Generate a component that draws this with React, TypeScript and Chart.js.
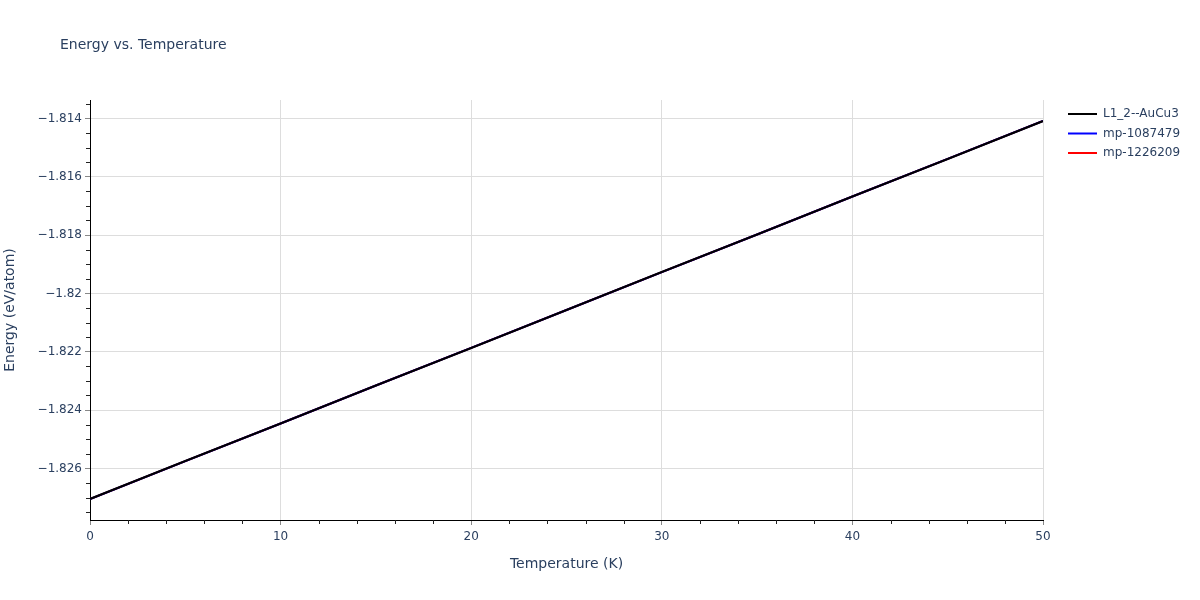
import React, { useEffect, useRef } from 'react';
import { Chart, registerables, ChartConfiguration, Plugin } from 'chart.js';

Chart.register(...registerables);

// temperatures (K) and energies (eV/atom)
const temperatures = [0, 5, 10, 15, 20, 25, 30, 35, 40, 45, 50];
const energyL12 = [-1.82705, -1.82575, -1.82446, -1.82316, -1.82187, -1.82057, -1.81927, -1.81798, -1.81668, -1.81539, -1.81409];
const energyMp1087479 = [-1.82705, -1.82575, -1.82446, -1.82316, -1.82187, -1.82057, -1.81927, -1.81798, -1.81668, -1.81539, -1.81409];
const energyMp1226209 = [-1.82705, -1.82575, -1.82446, -1.82316, -1.82187, -1.82057, -1.81927, -1.81798, -1.81668, -1.81539, -1.81409];

const seriesNames = ['L1_2--AuCu3', 'mp-1087479', 'mp-1226209'];
const seriesColors = ['#000000', '#0000ff', '#ff0000'];

const yTicks = [-1.826, -1.824, -1.822, -1.82, -1.818, -1.816, -1.814];
const xTicks = [0, 10, 20, 30, 40, 50];

const TEXT = '#2a3f5f';
const FONT = "'DejaVu Sans', sans-serif";

const fmt = (v: number) => {
  const s = parseFloat(v.toFixed(4)).toString();
  return s.replace('-', '\u2212');
};

const extrasPlugin: Plugin = {
  id: 'extras',
  afterDraw(chart) {
    const ctx = chart.ctx;
    const xs = chart.scales.x;
    const ys = chart.scales.y;
    const area = chart.chartArea;
    ctx.save();

    // minor ticks
    ctx.strokeStyle = '#222';
    ctx.lineWidth = 1;
    for (let t = 2; t < 50; t += 2) {
      if (t % 10 === 0) continue;
      const px = Math.round(xs.getPixelForValue(t)) + 0.5;
      ctx.beginPath();
      ctx.moveTo(px, area.bottom);
      ctx.lineTo(px, area.bottom + 4);
      ctx.stroke();
    }
    for (let i = -3656; i <= -3627; i++) {
      const v = i * 0.0005;
      if (v < ys.min || v > ys.max) continue;
      if (i % 4 === 0) continue;
      const py = Math.round(ys.getPixelForValue(v)) + 0.5;
      ctx.beginPath();
      ctx.moveTo(area.left - 4, py);
      ctx.lineTo(area.left, py);
      ctx.stroke();
    }

    // title
    ctx.fillStyle = TEXT;
    ctx.font = `14px ${FONT}`;
    ctx.textAlign = 'left';
    ctx.textBaseline = 'middle';
    ctx.fillText('Energy vs. Temperature', 60, 45.5);

    // legend
    ctx.font = `12px ${FONT}`;
    chart.data.datasets.forEach((ds, i) => {
      const y = 114 + i * 19.5;
      ctx.strokeStyle = ds.borderColor as string;
      ctx.lineWidth = 2;
      ctx.beginPath();
      ctx.moveTo(1068, y);
      ctx.lineTo(1097, y);
      ctx.stroke();
      ctx.fillStyle = TEXT;
      ctx.fillText(ds.label as string, 1103, y);
    });
    ctx.restore();
  },
};

const App: React.FC = () => {
  const canvasRef = useRef<HTMLCanvasElement | null>(null);

  useEffect(() => {
    if (!canvasRef.current) return;
    const series = [energyL12, energyMp1087479, energyMp1226209];

    const config: ChartConfiguration<'line'> = {
      type: 'line',
      data: {
        datasets: series.map((vals, i) => ({
          label: seriesNames[i],
          data: temperatures.map((t, j) => ({ x: t, y: vals[j] })),
          borderColor: seriesColors[i],
          backgroundColor: seriesColors[i],
          borderWidth: i === 0 ? 2.2 : 2,
          pointRadius: 0,
          tension: 0,
          fill: false,
        })),
      },
      options: {
        animation: false,
        responsive: true,
        maintainAspectRatio: false,
        devicePixelRatio: 1,
        layout: { padding: { left: 0, right: 157, top: 100, bottom: 0 } },
        plugins: {
          legend: { display: false },
          title: { display: false },
          tooltip: { enabled: false },
        },
        scales: {
          x: {
            type: 'linear',
            min: 0,
            max: 50,
            afterBuildTicks: (scale) => {
              scale.ticks = xTicks.map((v) => ({ value: v }));
            },
            afterFit: (scale) => {
              scale.height = 80;
            },
            ticks: {
              color: TEXT,
              font: { family: FONT, size: 12 },
              padding: 5,
              maxRotation: 0,
              callback: (v) => fmt(Number(v)),
            },
            grid: {
              color: '#dddddd',
              tickColor: '#888888',
              tickLength: 5,
              drawTicks: true,
            },
            border: { display: true, color: '#000000', width: 1 },
            title: {
              display: true,
              text: 'Temperature (K)',
              color: TEXT,
              font: { family: FONT, size: 14 },
              padding: { top: 0, bottom: 27 },
            },
          },
          y: {
            type: 'linear',
            min: -1.82777,
            max: -1.81337,
            afterBuildTicks: (scale) => {
              scale.ticks = yTicks.map((v) => ({ value: v }));
            },
            afterFit: (scale) => {
              scale.width = 90;
            },
            ticks: {
              color: TEXT,
              font: { family: FONT, size: 12 },
              padding: 3,
              callback: (v) => fmt(Number(v)),
            },
            grid: {
              color: '#dddddd',
              tickColor: '#888888',
              tickLength: 5,
              drawTicks: true,
            },
            border: { display: true, color: '#000000', width: 1 },
            title: {
              display: true,
              text: 'Energy (eV/atom)',
              color: TEXT,
              font: { family: FONT, size: 14 },
              padding: { top: 2, bottom: 0 },
            },
          },
        },
      },
      plugins: [extrasPlugin],
    };

    const chart = new Chart(canvasRef.current, config);
    return () => {
      chart.destroy();
    };
  }, []);

  return (
    <div style={{ position: 'fixed', left: 0, top: 0, width: 1200, height: 600, background: '#fff' }}>
      <canvas ref={canvasRef}></canvas>
    </div>
  );
};

export default App;
